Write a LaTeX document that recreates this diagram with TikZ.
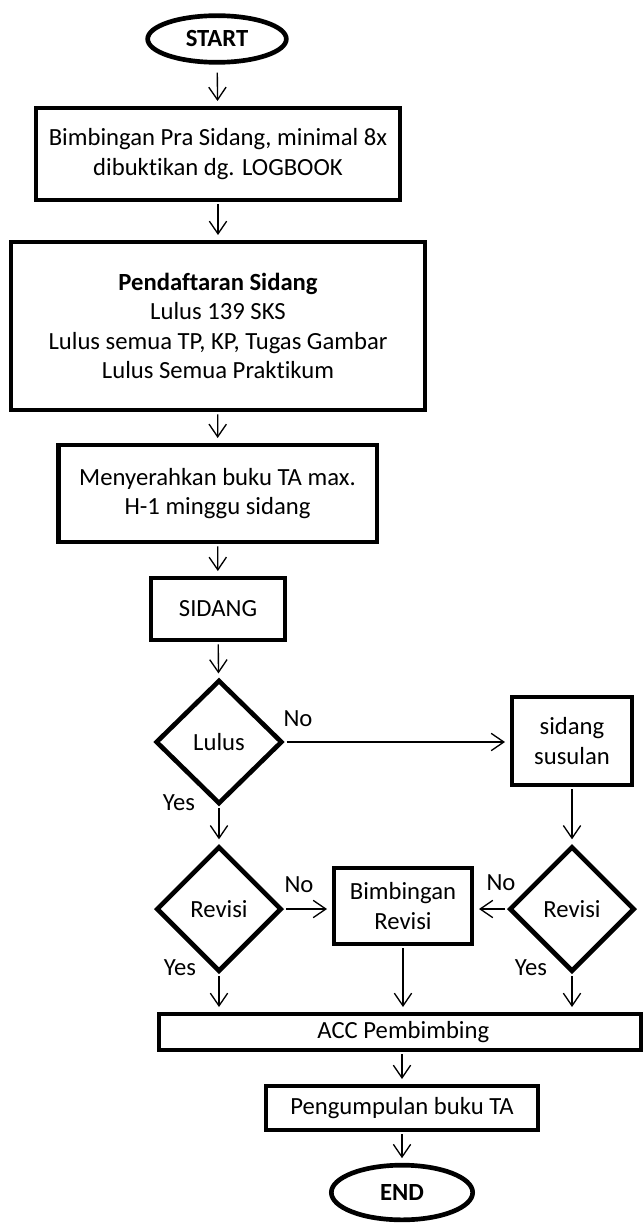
\documentclass[tikz,border=0pt]{standalone}
\usepackage{fontspec}
\setmainfont{Carlito}[Ligatures=NoCommon]
\usetikzlibrary{shapes.geometric,arrows.meta}
\newcommand{\flowfont}{\fontsize{18.5}{22}\selectfont}
\tikzset{
	box/.style={draw, rectangle, line width=3.5pt, inner sep=0pt, align=center},
	term/.style={draw, ellipse, line width=3.5pt, inner sep=0pt, font=\flowfont\bfseries},
	ask/.style={draw, diamond, line width=3.5pt, inner sep=0pt},
	flow/.style={line width=1pt, -{Straight Barb[length=9.5pt,width=13pt]}, shorten >=3.5pt, shorten <=1.5pt},
	lbl/.style={inner sep=0pt}
}

\begin{document}
\begin{tikzpicture}[x=0.75pt, y=-0.75pt, font=\flowfont]
		%%%%% START %%%%%
		\useasboundingbox (0, 0) rectangle (643, 1223);
		
		\node[term, minimum width=104pt, minimum height=35pt] (start) at (217, 39) {START};
		\node[box, minimum width=273pt, minimum height=69pt] (bimbingan) at (218, 154) {Bimbingan Pra Sidang, minimal 8x\\dibuktikan dg. LOGBOOK};
		\node[box, minimum width=310.5pt, minimum height=126pt] (daftar) at (218, 326) {\textbf{Pendaftaran Sidang}\\Lulus 139 SKS\\Lulus semua TP, KP, Tugas Gambar\\Lulus Semua Praktikum};
		\node[box, minimum width=239pt, minimum height=72.75pt] (serah) at (217.5, 493.5) {Menyerahkan buku TA max.\\H-1 minggu sidang};
		\node[box, minimum width=100.5pt, minimum height=46.5pt] (sidang) at (218, 609) {SIDANG};
		
		\node[ask, minimum width=95pt, minimum height=93pt] (lulus) at (219, 742) {Lulus};
		\node[box, minimum width=90pt, minimum height=66pt] (susulan) at (572, 741) {sidang\\susulan};
		
		\node[ask, minimum width=94pt, minimum height=94pt] (revkiri) at (219, 909) {Revisi};
		\node[box, minimum width=103.5pt, minimum height=57pt] (bimrevisi) at (403, 906) {Bimbingan\\Revisi};
		\node[ask, minimum width=94pt, minimum height=94pt] (revkanan) at (572, 909) {Revisi};
		
		\node[box, minimum width=361.5pt, minimum height=27pt] (acc) at (400, 1032) {\hspace*{5pt}ACC Pembimbing};
		\node[box, minimum width=204pt, minimum height=33pt] (kumpul) at (402, 1108) {Pengumpulan buku TA};
		\node[term, minimum width=106pt, minimum height=41pt] (end) at (402, 1192.5) {END};
		
		\draw[flow, shorten <=6pt] (start) -- (bimbingan);
		\draw[flow] (bimbingan) -- (daftar);
		\draw[flow] (daftar) -- (serah);
		\draw[flow] (serah) -- (sidang);
		\draw[flow] (sidang) -- (lulus);
		
		\draw[flow] (lulus.east) -- (lulus.east -| susulan.west);
		\draw[flow] (lulus) -- (revkiri);
		\draw[flow] (susulan) -- (revkanan);
		
		\draw[flow] (revkiri.east) -- (revkiri.east -| bimrevisi.west);
		\draw[flow] (revkanan.west) -- (revkanan.west -| bimrevisi.east);
		\draw[flow] (revkiri.south) -- (revkiri.south |- acc.north);
		\draw[flow] (bimrevisi.south) -- (bimrevisi.south |- acc.north);
		\draw[flow] (revkanan.south) -- (revkanan.south |- acc.north);
		
		\draw[flow] (acc.south -| kumpul.north) -- (kumpul.north);
		\draw[flow] (kumpul) -- (end);
		
		\node[lbl] (nolulus) at (298, 719) {No};
		\node[lbl] (yeslulus) at (179, 803) {Yes};
		\node[lbl] (nokiri) at (299, 885) {No};
		\node[lbl] (yeskiri) at (180, 968) {Yes};
		\node[lbl] (nokanan) at (501, 883) {No};
		\node[lbl] (yeskanan) at (531, 968) {Yes};
		
		%%%%% END %%%%%
	\end{tikzpicture}
\end{document}
